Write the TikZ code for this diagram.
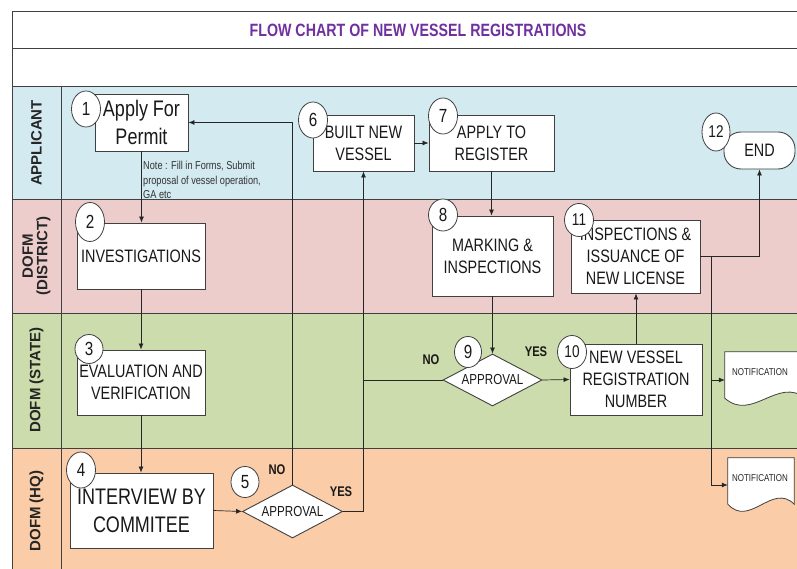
\documentclass[tikz,border=0pt]{standalone}
\usepackage{fontspec}
\setmainfont{Liberation Sans}
\newfontfamily\narrowfont[FakeStretch=0.8]{Liberation Sans}
\usetikzlibrary{shapes.geometric, arrows.meta, positioning}
\definecolor{laneblue}{RGB}{211,234,240}
\definecolor{lanepink}{RGB}{237,205,204}
\definecolor{lanegreen}{RGB}{204,220,172}
\definecolor{lanepeach}{RGB}{250,204,168}
\definecolor{titlepurple}{RGB}{112,48,160}
\definecolor{edgegray}{RGB}{64,64,64}

\begin{document}
\begin{tikzpicture}[x=1pt, y=-1pt,
  box/.style={draw=edgegray, fill=white, line width=0.9pt, align=center, inner sep=2pt, text=black!90, font=\narrowfont\fontsize{18}{22}\selectfont},
  bigbox/.style={box, font=\narrowfont\fontsize{22.5}{28}\selectfont},
  numcirc/.style={ellipse, draw=edgegray, fill=white, line width=0.8pt, inner sep=0pt, minimum width=29pt, minimum height=36pt, text=black!90, font=\narrowfont\fontsize{19}{19}\selectfont},
  decision/.style={diamond, aspect=1.9, draw=edgegray, fill=white, line width=0.9pt, inner sep=0pt, minimum width=100pt, minimum height=53pt, text=black!90, font=\narrowfont\fontsize{14.5}{14.5}\selectfont},
  lanelabel/.style={rotate=90, align=center, text=black!85, font=\bfseries\fontsize{15}{14.5}\selectfont},
  yesno/.style={text=black!90, font=\narrowfont\bfseries\fontsize{14}{14}\selectfont},
  docnode/.style={draw=none, minimum width=#1, minimum height=46pt, inner sep=0pt},
  docline/.style={draw=edgegray, fill=white, line width=0.8pt},
  doctext/.style={inner sep=0pt, text=black!85, font=\narrowfont\fontsize{10}{10}\selectfont},
  flow/.style={draw=black!85, line width=0.7pt, -{Latex[length=6pt, width=5pt]}},
  link/.style={draw=black!85, line width=0.7pt}
]
\useasboundingbox (0,0) rectangle (797,569);

% swim lanes
\foreach \ytop/\ybot/\col in {87/200/laneblue, 200/313/lanepink, 313/448/lanegreen, 448/585/lanepeach}
  \fill[\col] (12,\ytop) rectangle (815,\ybot);
\draw[edgegray, line width=1pt] (12,12) rectangle (815,585);
\foreach \yl in {49, 87, 200, 313, 448}
  \draw[edgegray, line width=1pt] (12,\yl) -- (815,\yl);
\draw[edgegray, line width=0.8pt] (61,87) -- (61,585);

\node[text=titlepurple, font=\narrowfont\bfseries\fontsize{17.8}{17.8}\selectfont] (title) at (418,30) {FLOW CHART OF NEW VESSEL REGISTRATIONS};

\node[lanelabel] (lapp) at (36.5,143) {APPLICANT};
\node[lanelabel] (ldis) at (36.5,256) {DOFM\\(DISTRICT)};
\node[lanelabel] (lsta) at (36.5,380) {DOFM (STATE)};
\node[lanelabel] (lhq) at (36.5,511) {DOFM (HQ)};

% process boxes
\node[bigbox, minimum width=93pt, minimum height=57pt] (b1) at (141.5,122.5) {Apply For\\Permit};
\node[box, minimum width=128pt, minimum height=66pt] (b2) at (141,256) {INVESTIGATIONS};
\node[box, minimum width=128pt, minimum height=65pt] (b3) at (141,382.5) {EVALUATION AND\\VERIFICATION};
\node[bigbox, minimum width=143pt, minimum height=75pt] (b4) at (141.5,510.5) {INTERVIEW BY\\COMMITEE};
\node[decision] (d5) at (292.5,511.5) {APPROVAL};
\node[box, minimum width=101pt, minimum height=56pt] (b6) at (363.5,143) {BUILT NEW\\VESSEL};
\node[box, minimum width=125pt, minimum height=56pt] (b7) at (491.5,143) {APPLY TO\\REGISTER};
\node[box, minimum width=121pt, minimum height=80pt] (b8) at (492.5,256) {MARKING \&\\INSPECTIONS};
\node[decision, minimum width=99pt, minimum height=52pt] (d9) at (492.5,380) {APPROVAL};
\node[box, minimum width=132pt, minimum height=71pt] (b10) at (636,379.5) {NEW VESSEL\\REGISTRATION\\NUMBER};
\node[box, minimum width=129pt, minimum height=73pt] (b11) at (635.5,256.5) {INSPECTIONS \&\\ISSUANCE OF\\NEW LICENSE};
\node[box, rounded corners=17pt, minimum width=71pt, minimum height=37pt] (end) at (759.5,150.5) {END};

\node[anchor=north west, align=left, inner sep=0pt, text=black!80, font=\narrowfont\fontsize{11.5}{14.5}\selectfont] (note) at (143,161) {Note : Fill in Forms, Submit\\proposal of vessel operation,\\GA etc};

% documents
\node[docnode=80pt] (n1) at (765,375) {};
\draw[docline] (n1.south west) -- (n1.north west) -- (n1.north east) -- (n1.south east)
  .. controls +(-27,-22) and +(27,24) .. (n1.south west) -- cycle;
\node[doctext] (n1t) at (760,372) {NOTIFICATION};
\node[docnode=66pt] (n2) at (761,481) {};
\draw[docline] (n2.south west) -- (n2.north west) -- (n2.north east) -- (n2.south east)
  .. controls +(-22,-22) and +(22,24) .. (n2.south west) -- cycle;
\node[doctext] (n2t) at (760,478) {NOTIFICATION};

% step numbers
\node[numcirc] (c1) at (86,109) {1};
\node[numcirc, minimum height=39pt] (c2) at (90,222) {2};
\node[numcirc, minimum width=28pt, minimum height=29pt] (c3) at (89,349) {3};
\node[numcirc] (c4) at (81,470) {4};
\node[numcirc, minimum width=28pt, minimum height=31pt] (c5) at (245,482) {5};
\node[numcirc] (c6) at (313,120) {6};
\node[numcirc] (c7) at (443,116) {7};
\node[numcirc, minimum height=32pt] (c8) at (443,215) {8};
\node[numcirc, minimum width=27pt, minimum height=31pt] (c9) at (468,352) {9};
\node[numcirc, minimum height=33pt, font=\narrowfont\fontsize{17}{17}\selectfont] (c10) at (572,352) {10};
\node[numcirc, minimum height=33pt, font=\narrowfont\fontsize{17}{17}\selectfont] (c11) at (579,220) {11};
\node[numcirc, minimum width=28pt, minimum height=38pt, font=\narrowfont\fontsize{17}{17}\selectfont] (c12) at (716,132) {12};

\node[yesno] (no5) at (277,470) {NO};
\node[yesno] (yes5) at (341,492) {YES};
\node[yesno] (no9) at (431,360) {NO};
\node[yesno] (yes9) at (536,352) {YES};

% connectors
\draw[flow] (b1.south) -- (b1.south |- b2.north);
\draw[flow] (b2.south) -- (b2.south |- b3.north);
\draw[flow] (b3.south) -- (b3.south |- b4.north);
\draw[flow] (b4.east) -- (d5.west);
\draw[flow] (d5.north) |- (b1.east);
\draw[flow] (d5.east) -| (b6.south);
\draw[flow] (b6.east) -- (b7.west);
\draw[flow] (b7.south) -- (b7.south |- b8.north);
\draw[flow] (b8.south) -- (d9.north);
\draw[link] (d9.west) -- (d9.west -| b6.south);
\draw[flow] (d9.east) -- (b10.west);
\draw[flow] (b10.north) -- (b10.north |- b11.south);
\draw[flow] (b11.east) -| (end.south);
\coordinate (j) at (711,256.5);
\draw[flow] (j) |- ([yshift=-4pt]n2.west);
\draw[flow] (j |- d9.east) -- (n1.west |- d9.east);
\end{tikzpicture}
\end{document}
